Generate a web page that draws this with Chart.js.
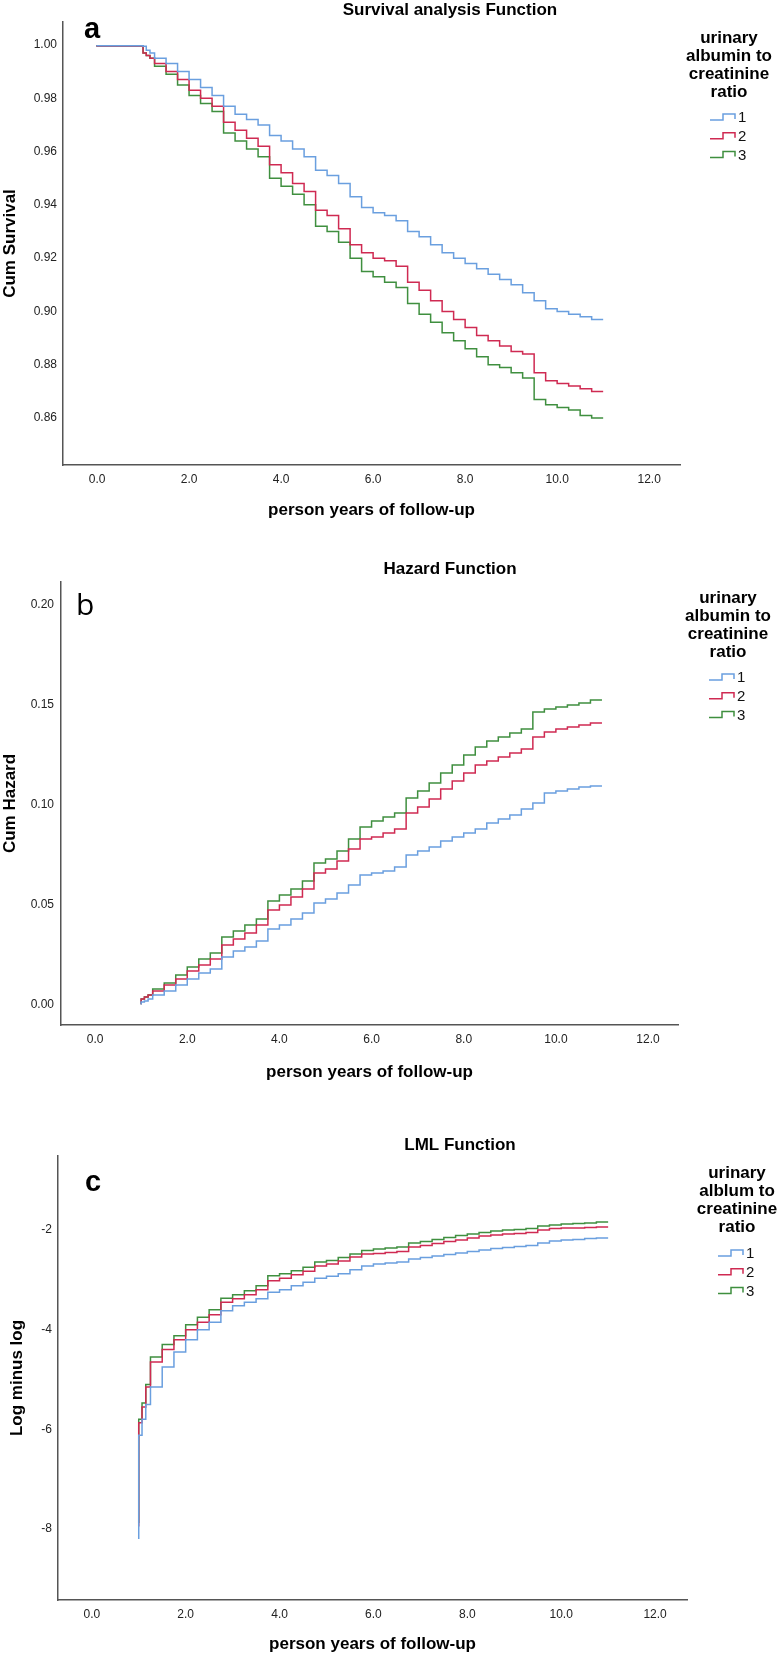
<!DOCTYPE html>
<html>
<head>
<meta charset="utf-8">
<script src="https://cdn.jsdelivr.net/npm/chart.js@4.4.0/dist/chart.umd.min.js"></script>
<style>
  body { margin: 0; background: #fff; }
  #wrap { position: relative; width: 778px; height: 1655px; }
  canvas { position: absolute; left: 0; }
</style>
</head>
<body>
<div id="wrap">
  <canvas id="survivalChart" width="778" height="540" style="top:0px"></canvas>
  <canvas id="hazardChart" width="778" height="560" style="top:540px"></canvas>
  <canvas id="lmlChart" width="778" height="555" style="top:1100px"></canvas>
</div>
<script>
// follow-up times (years) where the step curves change
const years = [1.0, 1.07, 1.15, 1.25, 1.5, 1.75, 2.0, 2.25, 2.5, 2.75, 3.0, 3.25, 3.5, 3.75,
  4.0, 4.25, 4.5, 4.75, 5.0, 5.25, 5.5, 5.75, 6.0, 6.25, 6.5, 6.75, 7.0, 7.25, 7.5, 7.75,
  8.0, 8.25, 8.5, 8.75, 9.0, 9.25, 9.5, 9.75, 10.0, 10.25, 10.5, 10.75, 11.0];
const survivalYears = [0].concat(years);

const groups = ['1', '2', '3'];
const groupColors = ['#6a9fdf', '#cf2a52', '#3f8f3f'];

// a: cumulative survival
const survival1 = [1.0, 0.9997, 0.9995, 0.998, 0.997, 0.995, 0.993, 0.990, 0.987, 0.984, 0.981, 0.977, 0.974, 0.972, 0.970,
  0.966, 0.964, 0.961, 0.958, 0.953, 0.951, 0.948, 0.943, 0.939, 0.937, 0.936, 0.934, 0.930, 0.928, 0.925, 0.922,
  0.920, 0.918, 0.916, 0.914, 0.912, 0.910, 0.907, 0.904, 0.901, 0.900, 0.899, 0.898, 0.897];
const survival2 = [1.0, 0.9996, 0.997, 0.996, 0.995, 0.993, 0.990, 0.987, 0.983, 0.980, 0.977, 0.971, 0.968, 0.965, 0.962,
  0.955, 0.952, 0.948, 0.945, 0.938, 0.936, 0.931, 0.925, 0.922, 0.920, 0.919, 0.917, 0.911, 0.908, 0.904, 0.900,
  0.897, 0.894, 0.891, 0.889, 0.887, 0.885, 0.884, 0.877, 0.874, 0.873, 0.872, 0.871, 0.870];
const survival3 = [1.0, 0.9996, 0.997, 0.996, 0.995, 0.992, 0.989, 0.985, 0.981, 0.978, 0.975, 0.967, 0.964, 0.961, 0.958,
  0.950, 0.947, 0.944, 0.940, 0.932, 0.930, 0.926, 0.920, 0.915, 0.913, 0.911, 0.909, 0.903, 0.899, 0.896, 0.892,
  0.889, 0.886, 0.883, 0.880, 0.879, 0.877, 0.875, 0.867, 0.865, 0.864, 0.863, 0.861, 0.860];

// b: cumulative hazard
const hazard1 = [0.0003, 0.0015, 0.002, 0.003, 0.005, 0.007, 0.010, 0.013, 0.016, 0.018, 0.024, 0.027, 0.029, 0.032,
  0.038, 0.040, 0.043, 0.046, 0.051, 0.053, 0.056, 0.060, 0.065, 0.066, 0.067, 0.069, 0.075, 0.077, 0.079, 0.082,
  0.084, 0.086, 0.088, 0.091, 0.093, 0.095, 0.098, 0.101, 0.106, 0.107, 0.108, 0.109, 0.1095];
const hazard2 = [0.0004, 0.003, 0.004, 0.005, 0.007, 0.010, 0.013, 0.017, 0.020, 0.023, 0.030, 0.033, 0.036, 0.040,
  0.0475, 0.050, 0.054, 0.058, 0.066, 0.068, 0.072, 0.078, 0.083, 0.084, 0.086, 0.088, 0.096, 0.099, 0.103, 0.108,
  0.112, 0.116, 0.120, 0.122, 0.124, 0.126, 0.128, 0.134, 0.1365, 0.138, 0.139, 0.140, 0.141];
const hazard3 = [0.0004, 0.003, 0.004, 0.005, 0.008, 0.011, 0.015, 0.019, 0.023, 0.026, 0.034, 0.037, 0.040, 0.043,
  0.052, 0.055, 0.058, 0.062, 0.071, 0.073, 0.077, 0.083, 0.089, 0.092, 0.094, 0.096, 0.1035, 0.107, 0.111, 0.116,
  0.120, 0.125, 0.129, 0.132, 0.134, 0.136, 0.138, 0.1465, 0.148, 0.149, 0.150, 0.151, 0.1525];

// c: log minus log
const lml1 = [-8.2, -6.12, -5.8, -5.5, -5.15, -4.75, -4.45, -4.2, -4.0, -3.85, -3.62, -3.52, -3.45, -3.38,
  -3.25, -3.2, -3.12, -3.05, -2.97, -2.93, -2.88, -2.8, -2.72, -2.68, -2.66, -2.64, -2.58, -2.55, -2.52, -2.49,
  -2.46, -2.43, -2.4, -2.37, -2.35, -2.33, -2.31, -2.26, -2.22, -2.2, -2.19, -2.17, -2.16];
const lml2 = [-7.95, -5.87, -5.55, -5.15, -4.65, -4.4, -4.2, -4.0, -3.85, -3.7, -3.45, -3.38, -3.3, -3.2,
  -3.02, -2.97, -2.9, -2.83, -2.72, -2.68, -2.62, -2.54, -2.48, -2.47, -2.45, -2.43, -2.34, -2.31, -2.27, -2.23,
  -2.2, -2.16, -2.12, -2.1, -2.08, -2.07, -2.05, -2.0, -1.97, -1.96, -1.96, -1.95, -1.94];
const lml3 = [-7.88, -5.8, -5.47, -5.1, -4.55, -4.3, -4.12, -3.9, -3.75, -3.6, -3.37, -3.3, -3.22, -3.12,
  -2.92, -2.88, -2.82, -2.75, -2.64, -2.61, -2.55, -2.48, -2.41, -2.38, -2.36, -2.34, -2.26, -2.23, -2.19, -2.15,
  -2.11, -2.08, -2.05, -2.02, -2.0, -1.99, -1.97, -1.92, -1.9, -1.88, -1.87, -1.86, -1.84];

// tick labels
const xTicks = [0, 2, 4, 6, 8, 10, 12];
const survivalTicks = [0.86, 0.88, 0.90, 0.92, 0.94, 0.96, 0.98, 1.00];
const hazardTicks = [0.00, 0.05, 0.10, 0.15, 0.20];
const lmlTicks = [-8, -6, -4, -2];

const FONT = '"Liberation Sans", Arial, sans-serif';

function toPoints(xs, ys) {
  return xs.map((x, i) => ({ x: x, y: ys[i] }));
}

function makeDatasets(xs, seriesList) {
  return seriesList.map((ys, i) => ({
    label: groups[i],
    data: toPoints(xs, ys),
    borderColor: groupColors[i],
    borderWidth: 1.5,
    pointRadius: 0,
    stepped: 'after',
    fill: false
  }));
}

// title, panel letter and the SPSS-like legend on the right
function decor(cfg) {
  return {
    id: 'decor',
    afterDraw(chart) {
      const ctx = chart.ctx;
      ctx.save();
      ctx.fillStyle = '#000';
      ctx.textBaseline = 'middle';
      ctx.textAlign = 'center';
      ctx.font = 'bold 17px ' + FONT;
      ctx.fillText(cfg.title, cfg.titleX, cfg.titleY);

      ctx.textAlign = 'left';
      ctx.textBaseline = 'alphabetic';
      ctx.font = cfg.letterFont;
      ctx.fillText(cfg.letter, cfg.letterX, cfg.letterY);

      ctx.textAlign = 'center';
      ctx.textBaseline = 'middle';
      ctx.font = 'bold 17px ' + FONT;
      cfg.legendTitle.forEach((line, i) => {
        ctx.fillText(line, cfg.legendX, cfg.legendY + i * 18);
      });

      chart.data.datasets.forEach((ds, i) => {
        const y = cfg.itemY + i * 18.7;
        const x0 = cfg.iconX;
        ctx.strokeStyle = ds.borderColor;
        ctx.lineWidth = 1.5;
        ctx.beginPath();
        ctx.moveTo(x0, y + 3);
        ctx.lineTo(x0 + 13, y + 3);
        ctx.lineTo(x0 + 13, y - 3);
        ctx.lineTo(x0 + 25, y - 3);
        ctx.lineTo(x0 + 25, y + 2);
        ctx.stroke();
        ctx.fillStyle = '#111';
        ctx.textAlign = 'left';
        ctx.font = '15px ' + FONT;
        ctx.fillText(ds.label, x0 + 28, y + 1);
      });
      ctx.restore();
    }
  };
}

function makeChart(id, cfg) {
  return new Chart(document.getElementById(id), {
    type: 'line',
    data: { datasets: cfg.datasets },
    options: {
      responsive: false,
      animation: false,
      layout: { padding: cfg.padding },
      plugins: { legend: { display: false }, title: { display: false }, tooltip: { enabled: false } },
      scales: {
        x: {
          type: 'linear',
          min: cfg.xMin,
          max: cfg.xMax,
          grid: { display: false, drawTicks: false },
          border: { display: true, color: '#555', width: 1.5 },
          afterBuildTicks: s => { s.ticks = xTicks.map(v => ({ value: v })); },
          afterFit: s => { s.height = cfg.xAxisHeight; },
          ticks: {
            padding: 7,
            color: '#222',
            font: { family: FONT, size: 12 },
            callback: v => Number(v).toFixed(1)
          },
          title: {
            display: true,
            text: 'person years of follow-up',
            color: '#000',
            padding: { top: 0, bottom: 0 },
            font: { family: FONT, size: 17, weight: 'bold' }
          }
        },
        y: {
          min: cfg.yMin,
          max: cfg.yMax,
          grid: { display: false, drawTicks: false },
          border: { display: true, color: '#555', width: 1.5 },
          afterBuildTicks: s => { s.ticks = cfg.yTicks.map(v => ({ value: v })); },
          afterFit: s => { s.width = cfg.yAxisWidth; },
          ticks: {
            padding: cfg.yTickPad,
            color: '#222',
            font: { family: FONT, size: 12 },
            callback: cfg.yFormat
          },
          title: {
            display: true,
            text: cfg.yTitle,
            color: '#000',
            padding: { top: cfg.yTitlePad, bottom: 0 },
            font: { family: FONT, size: 17, weight: 'bold' }
          }
        }
      }
    },
    plugins: [decor(cfg)]
  });
}

makeChart('survivalChart', {
  datasets: makeDatasets(survivalYears, [survival1, survival2, survival3]),
  padding: { top: 22, right: 98, left: 0, bottom: 19.8 },
  xMin: -0.74, xMax: 12.67, xAxisHeight: 55.2,
  yMin: 0.8424, yMax: 1.0086, yTicks: survivalTicks, yAxisWidth: 63, yTickPad: 6,
  yFormat: v => Number(v).toFixed(2), yTitle: 'Cum Survival', yTitlePad: 0,
  title: 'Survival analysis Function', titleX: 450, titleY: 10,
  letter: 'a', letterFont: 'bold 29px ' + FONT, letterX: 84, letterY: 38,
  legendTitle: ['urinary', 'albumin to', 'creatinine', 'ratio'], legendX: 729, legendY: 38,
  iconX: 710, itemY: 117
});

makeChart('hazardChart', {
  datasets: makeDatasets(years, [hazard1, hazard2, hazard3]),
  padding: { top: 42, right: 100, left: 0, bottom: 17.8 },
  xMin: -0.74, xMax: 12.65, xAxisHeight: 57.2,
  yMin: -0.01, yMax: 0.2115, yTicks: hazardTicks, yAxisWidth: 61, yTickPad: 7,
  yFormat: v => Number(v).toFixed(2), yTitle: 'Cum Hazard', yTitlePad: 0,
  title: 'Hazard Function', titleX: 450, titleY: 29,
  letter: 'b', letterFont: '30px "Open Sans", sans-serif', letterX: 76, letterY: 75,
  legendTitle: ['urinary', 'albumin to', 'creatinine', 'ratio'], legendX: 728, legendY: 58,
  iconX: 709, itemY: 137
});

makeChart('lmlChart', {
  datasets: makeDatasets(years, [lml1, lml2, lml3]),
  padding: { top: 56, right: 91, left: 0, bottom: 0 },
  xMin: -0.72, xMax: 12.68, xAxisHeight: 55,
  yMin: -9.425, yMax: -0.515, yTicks: lmlTicks, yAxisWidth: 58, yTickPad: 6,
  yFormat: v => String(v), yTitle: 'Log minus log', yTitlePad: 7,
  title: 'LML Function', titleX: 460, titleY: 45,
  letter: 'c', letterFont: 'bold 29px ' + FONT, letterX: 85, letterY: 91,
  legendTitle: ['urinary', 'alblum to', 'creatinine', 'ratio'], legendX: 737, legendY: 73,
  iconX: 718, itemY: 153
});
</script>
</body>
</html>
